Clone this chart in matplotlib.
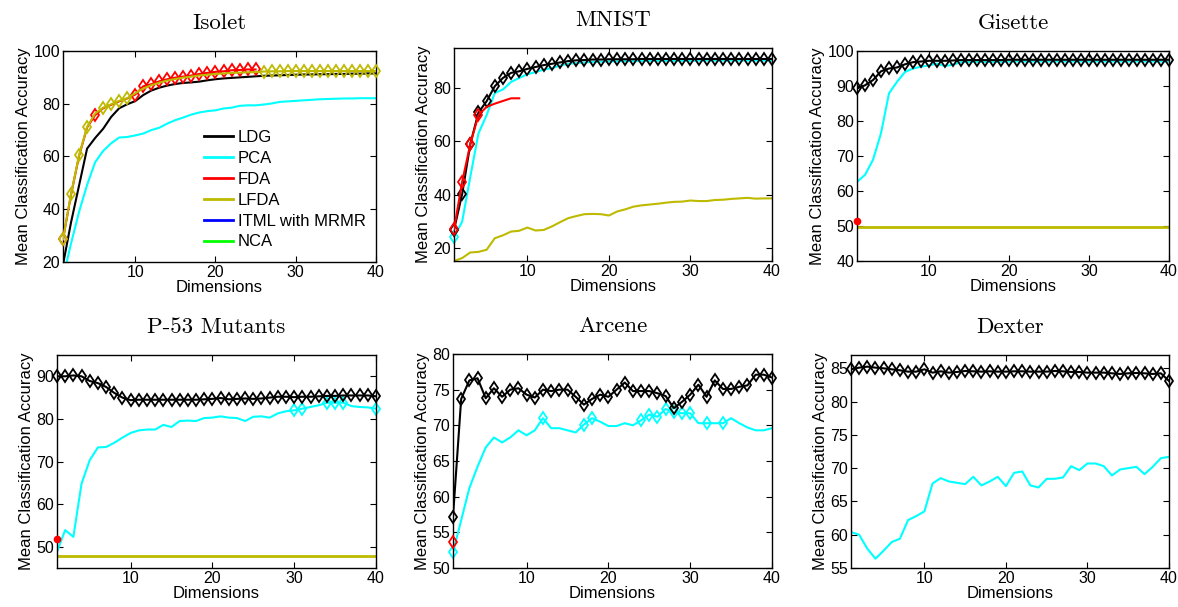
import matplotlib
matplotlib.use("Agg")
import matplotlib.pyplot as plt
from matplotlib.lines import Line2D

plt.rcParams['font.family'] = ['Liberation Sans', 'DejaVu Sans']

dims = list(range(1, 41))

# ---- Isolet ----
isolet_ldg = [19, 35, 49, 63, 67, 70.5, 75, 78.3, 79.8, 81, 83.3, 85, 86.1, 86.9, 87.5, 87.9,
              88.1, 88.4, 88.9, 89.3, 89.6, 89.8, 90.0, 90.2, 90.4, 90.6, 90.7, 90.8, 90.9,
              91.0, 91.1, 91.1, 91.2, 91.2, 91.3, 91.3, 91.4, 91.4, 91.5, 91.5]
isolet_pca = [14, 27, 39, 49.2, 57.8, 62.1, 65, 67.2, 67.4, 68, 68.7, 70, 70.9, 72.5, 73.8,
              74.8, 75.9, 76.7, 77.2, 77.5, 78.2, 78.5, 79.2, 79.4, 79.4, 79.7, 80.1, 80.7,
              80.9, 81.1, 81.3, 81.5, 81.7, 81.8, 81.9, 82.0, 82.0, 82.1, 82.1, 82.1]
isolet_fda = [28.6, 45.5, 60.2, 71, 75.7, 78.3, 79.6, 80.9, 82, 83.5, 86.6, 87.4, 88.5, 89.3,
              89.9, 90.3, 90.7, 91.3, 91.7, 92.1, 92.3, 92.7, 92.8, 93.0, 93.0]
isolet_lfda = [28.6, 45.7, 60.4, 71.2, 76.3, 78.5, 79.8, 81.1, 82.1, 84.0, 85.8, 87.0, 88.0,
               88.8, 89.4, 89.9, 90.3, 90.7, 91.0, 91.3, 91.5, 91.7, 91.8, 91.9, 92.0, 92.2,
               92.3, 92.3, 92.4, 92.4, 92.4, 92.4, 92.4, 92.4, 92.4, 92.4, 92.4, 92.4, 92.4, 92.4]
isolet_fda_marks = [1, 5] + list(range(10, 26))
isolet_lfda_marks = [1, 2, 3, 4, 6, 7, 8, 9] + list(range(26, 41))

# ---- MNIST ----
mnist_ldg = [26.8, 40.2, 58.9, 70.7, 74.9, 80.5, 83.6, 85.5, 86.1, 87.0, 87.7, 88.4, 88.9,
             89.4, 89.9, 90.2, 90.3, 90.5, 90.5, 90.6, 90.6, 90.6, 90.6, 90.7, 90.7, 90.7,
             90.7, 90.7, 90.7, 90.7, 90.7, 90.7, 90.7, 90.7, 90.7, 90.7, 90.7, 90.7, 90.7, 90.7]
mnist_pca = [24.1, 29.9, 46.7, 62.9, 69.7, 78.0, 79.3, 82.1, 83.6, 85.0, 85.8, 86.7, 87.3,
             88.2, 88.9, 89.2, 89.4, 89.6, 89.7, 89.8, 89.8, 89.9, 89.9, 89.9, 90.0, 90.0,
             90.0, 90.0, 90.0, 90.0, 90.1, 90.1, 90.1, 90.1, 90.1, 90.1, 90.1, 90.1, 90.1, 90.1]
mnist_fda = [27.0, 44.8, 58.9, 69.7, 72.8, 74.0, 75.0, 76.0, 76.0]
mnist_lfda = [15.2, 16.3, 18.4, 18.6, 19.4, 23.7, 24.8, 26.2, 26.5, 27.7, 26.6, 26.8, 28.1,
              29.7, 31.2, 32.0, 32.7, 32.8, 32.7, 32.2, 33.7, 34.5, 35.5, 36.0, 36.3, 36.6,
              37.0, 37.3, 37.4, 37.8, 37.6, 37.6, 38.0, 38.1, 38.4, 38.6, 38.8, 38.5, 38.6, 38.6]

# ---- Gisette ----
gisette_ldg = [89.3, 90.2, 91.7, 94.2, 95.0, 95.3, 96.2, 96.8, 97.0, 97.2, 97.2, 97.2, 97.3,
               97.4, 97.4, 97.4, 97.4, 97.4, 97.4, 97.5, 97.5, 97.5, 97.5, 97.5, 97.5, 97.5,
               97.5, 97.5, 97.5, 97.5, 97.5, 97.5, 97.5, 97.5, 97.5, 97.5, 97.5, 97.5, 97.5, 97.5]
gisette_pca = [62.6, 64.6, 68.9, 76.5, 87.9, 91.2, 94.0, 95.0, 95.5, 95.9, 96.4, 95.7, 96.1,
               96.8, 96.9, 96.9, 96.9, 96.9, 96.9, 97.0, 97.0, 97.0, 97.0, 97.0, 97.0, 97.0,
               97.0, 97.0, 97.0, 97.0, 97.0, 97.0, 97.0, 97.0, 97.0, 97.0, 97.0, 97.0, 97.0, 97.0]
gisette_fda = [51.5]
gisette_lfda = [49.7] * 40

# ---- P-53 Mutants ----
p53_ldg = [90.0, 90.0, 90.2, 90.0, 88.9, 88.4, 87.5, 86.1, 85.0, 84.4, 84.5, 84.5, 84.5,
           84.5, 84.5, 84.5, 84.5, 84.5, 84.6, 84.7, 84.9, 84.6, 84.7, 84.8, 84.7, 84.8,
           85.0, 85.2, 85.2, 85.1, 85.2, 85.2, 85.3, 85.4, 85.4, 85.5, 85.5, 85.5, 85.5, 85.3]
p53_pca = [48.8, 53.9, 52.3, 64.8, 70.3, 73.3, 73.4, 74.4, 75.6, 76.7, 77.3, 77.5, 77.5,
           78.6, 78.1, 79.5, 79.6, 79.5, 80.2, 80.3, 80.6, 80.3, 80.2, 79.5, 80.5, 80.6,
           80.3, 81.3, 81.8, 82.0, 82.4, 82.8, 83.2, 83.8, 83.8, 83.8, 83.0, 82.8, 82.7, 82.4]
p53_pca_marks = [30, 31, 34, 35, 36, 40]
p53_fda = [51.9]
p53_lfda = [47.8] * 40

# ---- Arcene ----
arcene_ldg = [57.2, 73.7, 76.3, 76.6, 73.8, 75.2, 74.0, 75.0, 75.2, 74.3, 73.9, 75.0, 74.8,
              75.0, 75.0, 74.0, 72.9, 73.7, 74.3, 74.0, 75.0, 76.0, 74.8, 74.8, 74.8, 74.5,
              74.1, 72.4, 73.3, 74.3, 75.7, 74.0, 76.3, 75.1, 75.1, 75.4, 75.6, 77.1, 77.1, 76.7]
arcene_pca = [52.2, 56.7, 61.2, 64.2, 66.9, 68.3, 67.6, 68.3, 69.3, 68.6, 69.3, 71.0, 69.6,
              69.6, 69.3, 69.0, 70.1, 71.0, 70.5, 69.9, 69.9, 70.3, 70.0, 70.7, 71.5, 71.2,
              72.3, 71.8, 71.7, 71.7, 70.3, 70.3, 70.3, 70.3, 71.0, 70.3, 69.7, 69.3, 69.3, 69.6]
arcene_pca_marks = [1, 12, 17, 18, 24, 25, 26, 27, 28, 29, 30, 32, 34]
arcene_fda = [53.6]

# ---- Dexter ----
dexter_ldg = [84.85, 85.1, 85.25, 85.1, 85.0, 84.85, 84.7, 84.5, 84.5, 84.85, 84.35, 84.55,
              84.35, 84.45, 84.6, 84.55, 84.5, 84.55, 84.5, 84.5, 84.55, 84.55, 84.5, 84.5,
              84.5, 84.6, 84.55, 84.45, 84.45, 84.35, 84.35, 84.35, 84.25, 84.15, 84.25,
              84.3, 84.25, 84.15, 84.25, 83.1]
dexter_pca = [60.4, 60.0, 57.9, 56.4, 57.6, 58.9, 59.4, 62.2, 62.8, 63.5, 67.7, 68.5, 68.0,
              67.8, 67.6, 68.7, 67.4, 68.0, 68.7, 67.3, 69.3, 69.5, 67.4, 67.1, 68.4, 68.4,
              68.6, 70.3, 69.7, 70.7, 70.7, 70.3, 68.9, 69.8, 70.0, 70.2, 69.1, 70.2, 71.5, 71.7]

methods = ['LDG', 'PCA', 'FDA', 'LFDA', 'ITML with MRMR', 'NCA']
colors = {'LDG': 'black', 'PCA': '#00FFFF', 'FDA': '#FF0000', 'LFDA': '#BDBA00',
          'ITML with MRMR': '#0000FF', 'NCA': '#00FF00'}

titles = ['Isolet', 'MNIST', 'Gisette', 'P-53 Mutants', 'Arcene', 'Dexter']
ylims = [(20, 100), (15.2, 94.8), (40, 100), (45, 95), (50, 80), (55, 87)]
yticks = [[20, 40, 60, 80, 100], [20, 40, 60, 80], [40, 50, 60, 70, 80, 90, 100],
          [50, 60, 70, 80, 90], [50, 55, 60, 65, 70, 75, 80], [55, 60, 65, 70, 75, 80, 85]]
xticks = [10, 20, 30, 40]

W, H = 1178, 607
boxes = [(63, 376, 51, 262), (454, 772, 48, 261), (857, 1169, 51, 261),
         (57, 376, 355, 568), (453, 772, 354, 568), (851, 1169, 355, 568)]

fig = plt.figure(figsize=(W / 100, H / 100), dpi=100)
axes = []
for (l, r, t, b) in boxes:
    axes.append(fig.add_axes([l / W, 1 - b / H, (r - l) / W, (b - t) / H]))

MS = 6.4


def curve(ax, y, method, marks=None, lw=1.5, z=2):
    x = dims[:len(y)]
    ax.plot(x, y, color=colors[method], lw=lw, zorder=z)
    if marks is not None:
        mx = [x[m - 1] for m in marks]
        my = [y[m - 1] for m in marks]
        ax.plot(mx, my, ls='none', marker='d', ms=MS, mfc='none',
                mec=colors[method], mew=1.3, zorder=z + 0.5, clip_on=False)


def single(ax, y, method, marker='o', ms=4, hollow=False):
    if hollow:
        ax.plot(dims[:len(y)], y, ls='none', marker=marker, ms=ms, mfc='none',
                mec=colors[method], mew=1.3, zorder=6, clip_on=False)
    else:
        ax.plot(dims[:len(y)], y, ls='none', marker=marker, ms=ms,
                color=colors[method], zorder=6, clip_on=False)


every = dims

# Isolet
ax = axes[0]
curve(ax, isolet_ldg, 'LDG')
curve(ax, isolet_pca, 'PCA')
curve(ax, isolet_fda, 'FDA', isolet_fda_marks, z=3)
curve(ax, isolet_lfda, 'LFDA', isolet_lfda_marks, z=4)

# MNIST
ax = axes[1]
curve(ax, mnist_lfda, 'LFDA')
curve(ax, mnist_pca, 'PCA', [1])
curve(ax, mnist_ldg, 'LDG', every, z=3)
curve(ax, mnist_fda, 'FDA', [1, 2, 3, 4], z=4)

# Gisette
ax = axes[2]
curve(ax, gisette_lfda, 'LFDA', lw=2)
curve(ax, gisette_pca, 'PCA')
curve(ax, gisette_ldg, 'LDG', every, z=3)
single(ax, gisette_fda, 'FDA', marker='o', ms=4.5)

# P-53 Mutants
ax = axes[3]
curve(ax, p53_lfda, 'LFDA', lw=2)
curve(ax, p53_pca, 'PCA', p53_pca_marks)
curve(ax, p53_ldg, 'LDG', every, z=3)
single(ax, p53_fda, 'FDA', marker='o', ms=4.5)

# Arcene
ax = axes[4]
curve(ax, arcene_pca, 'PCA', arcene_pca_marks)
curve(ax, arcene_ldg, 'LDG', every, z=3)
single(ax, arcene_fda, 'FDA', marker='d', ms=MS, hollow=True)

# Dexter
ax = axes[5]
curve(ax, dexter_pca, 'PCA')
curve(ax, dexter_ldg, 'LDG', every, z=3)

for ax, title, yl, yt in zip(axes, titles, ylims, yticks):
    ax.set_xlim(1, 40)
    ax.set_ylim(*yl)
    ax.set_xticks(xticks)
    ax.set_yticks(yt)
    ax.tick_params(direction='in', top=True, right=True, length=4, width=0.8,
                   labelsize=11.5, pad=2)
    for s in ax.spines.values():
        s.set_linewidth(1.0)
    ax.set_title(title, family='cmr10', fontsize=16.5, pad=16)
    ax.set_xlabel('Dimensions', fontsize=12, labelpad=0)
    ax.set_ylabel('Mean Classification Accuracy', fontsize=12, labelpad=2)

handles = [Line2D([], [], color=colors[m], lw=2) for m in methods]
axes[0].legend(handles, methods, loc='upper left', bbox_to_anchor=(0.414, 0.68),
               frameon=False, fontsize=12, handlelength=1.7, handletextpad=0.3,
               labelspacing=0.35, borderpad=0.2)

fig.savefig('out.png', dpi=100)
